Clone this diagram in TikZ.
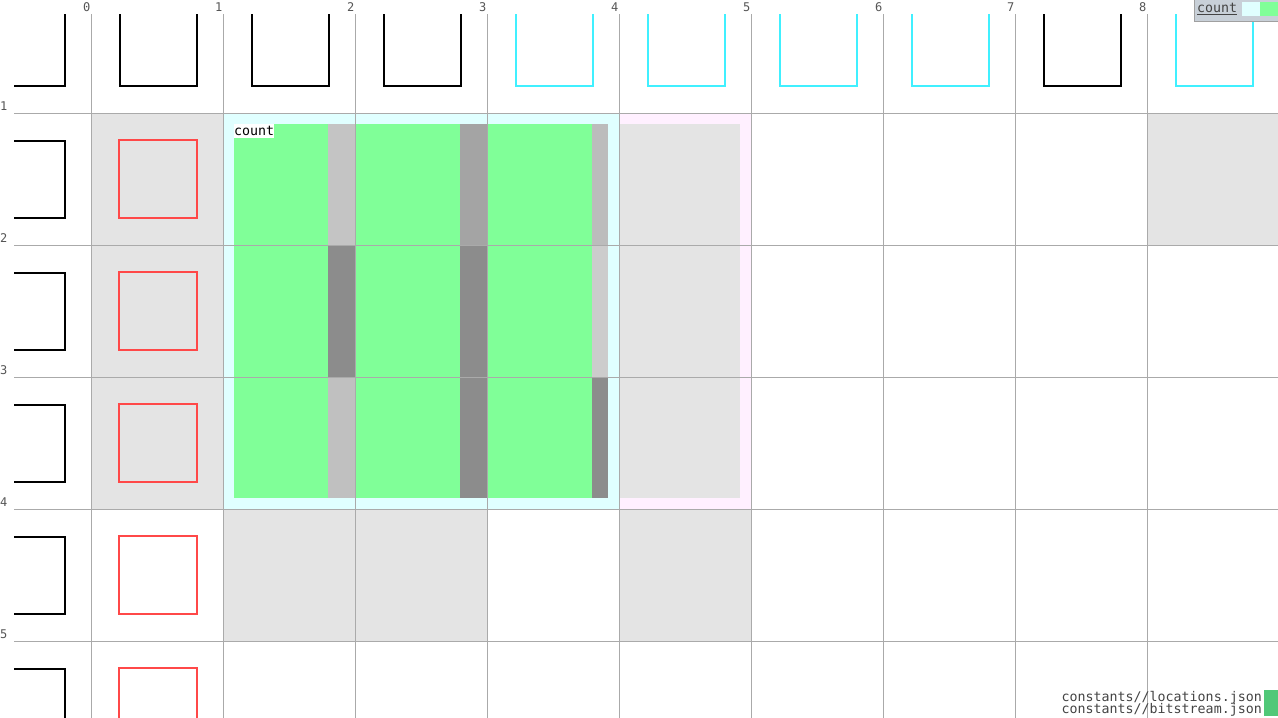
\documentclass[tikz,border=0pt]{standalone}
\usepackage{fontspec}
\setmonofont{DejaVu Sans Mono}
\begin{document}
\begin{tikzpicture}[x=1pt,y=-1pt,
  gridline/.style={draw=gridgray,line width=1pt},
  graycell/.style={fill=cellgray},
  blacksq/.style={draw=black,line width=2pt},
  cyansq/.style={draw=cyanline,line width=2pt},
  redsq/.style={draw=redline,line width=2pt},
  lbl/.style={font=\ttfamily\fontsize{12}{12}\selectfont,text=lblgray,inner sep=0pt},
  txt/.style={font=\ttfamily\fontsize{13.3}{13}\selectfont,text=txtgray,inner sep=0pt}]
\definecolor{gridgray}{HTML}{AAAAAA}
\definecolor{cellgray}{HTML}{E4E4E4}
\definecolor{cyanline}{HTML}{40F0FF}
\definecolor{redline}{HTML}{FF4848}
\definecolor{regcyan}{HTML}{E0FFFF}
\definecolor{regpink}{HTML}{FFF0FF}
\definecolor{greenfill}{HTML}{80FF98}
\definecolor{lblgray}{HTML}{555555}
\definecolor{txtgray}{HTML}{444444}
\definecolor{legbg}{HTML}{C8D0D8}
\definecolor{filegreen}{HTML}{50C878}
\useasboundingbox (0,0) rectangle (1278,718);
\fill[white] (0,0) rectangle (1278,718);
\begin{scope}
\clip (14,14) rectangle (1278,718);
% gray cells
\fill[graycell] (91,113) rectangle (223,509);
\fill[graycell] (1147,113) rectangle (1279,245);
\fill[graycell] (223,509) rectangle (487,641);
\fill[graycell] (619,509) rectangle (751,641);
% regions
\fill[regcyan] (223,113) rectangle (619,509);
\fill[regpink] (619,113) rectangle (751,509);
\fill[cellgray] (620,124) rectangle (740,498);
\fill[greenfill] (234,124) rectangle (328,498);
\fill[greenfill] (356,124) rectangle (460,498);
\fill[greenfill] (488,124) rectangle (592,498);
% bars
\fill[fill={rgb,255:red,196;green,196;blue,196}] (328,124) rectangle (356,245);
\fill[fill={rgb,255:red,140;green,140;blue,140}] (328,245) rectangle (356,377);
\fill[fill={rgb,255:red,192;green,192;blue,192}] (328,377) rectangle (356,498);
\fill[fill={rgb,255:red,164;green,164;blue,164}] (460,124) rectangle (488,245);
\fill[fill={rgb,255:red,140;green,140;blue,140}] (460,245) rectangle (488,377);
\fill[fill={rgb,255:red,140;green,140;blue,140}] (460,377) rectangle (488,498);
\fill[fill={rgb,255:red,188;green,188;blue,188}] (592,124) rectangle (608,245);
\fill[fill={rgb,255:red,204;green,204;blue,204}] (592,245) rectangle (608,377);
\fill[fill={rgb,255:red,140;green,140;blue,140}] (592,377) rectangle (608,498);
\node[fill=white,inner xsep=0pt,inner ysep=1pt,anchor=north west,font=\ttfamily\fontsize{13.3}{13}\selectfont,text=black,minimum height=14pt] (reglabel) at (234,124) {count};
% grid lines
\foreach \i in {0,...,8} \draw[gridline] (91+132*\i,14) -- (91+132*\i,718);
\foreach \j in {1,...,5} \draw[gridline] (14,-19+132*\j) -- (1278,-19+132*\j);
% squares
\foreach \c/\s in {-1/blacksq,0/blacksq,1/blacksq,2/blacksq,3/cyansq,4/cyansq,5/cyansq,6/cyansq,7/blacksq,8/cyansq}
  \draw[\s] (91+132*\c+28.5,-19+28) rectangle (91+132*\c+105.5,-19+105);
\foreach \r in {1,...,5} {
  \draw[blacksq] (91-132+28.5,-19+132*\r+27.5) rectangle (91-132+105.5,-19+132*\r+104.5);
  \draw[redsq] (91+28.3,-19+132*\r+27.3) rectangle (91+105.7,-19+132*\r+104.7);
}
\end{scope}
% axis labels
\foreach \i in {0,...,8} \node[lbl,anchor=east] (col\i) at (90.5+132*\i,7) {\i};
\foreach \j in {1,...,5} \node[lbl,anchor=west] (row\j) at (0,-19+132*\j-7) {\j};
% legend
\fill[legbg,draw={rgb,255:red,160;green,160;blue,160}] (1194,-1) rectangle (1279,21);
\node[txt,anchor=west] (legtext) at (1197,9) {\underline{count}};
\fill[regcyan] (1242,2) rectangle (1260,16);
\fill[greenfill] (1260,2) rectangle (1278,16);
% files
\node[txt,anchor=east] (file1) at (1262,697.5) {constants//locations.json};
\node[txt,anchor=east] (file2) at (1262,709.5) {constants//bitstream.json};
\fill[filegreen] (1264,690) rectangle (1278,716);
\end{tikzpicture}
\end{document}
